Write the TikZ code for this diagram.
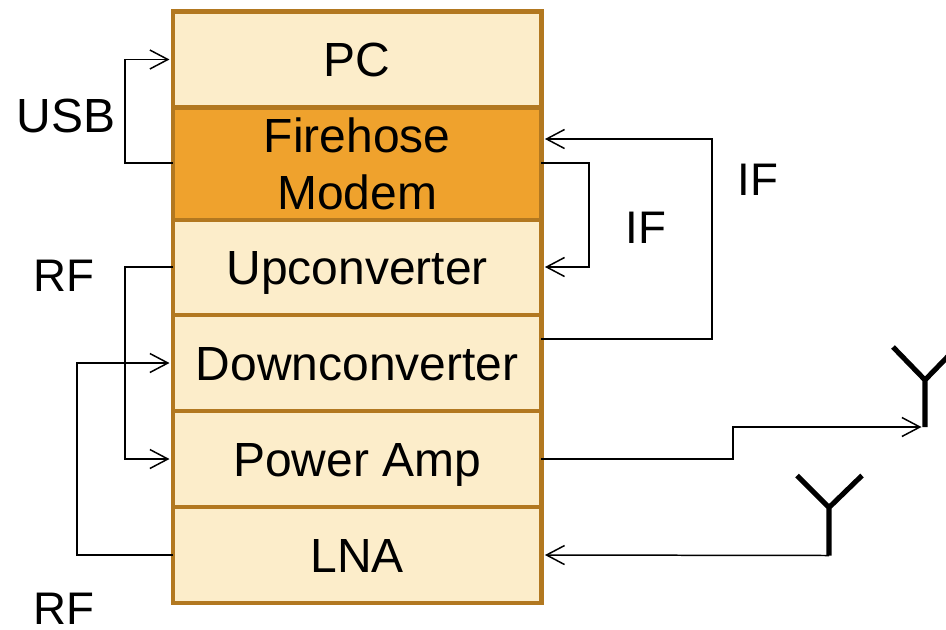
\documentclass[tikz,border=0pt]{standalone}
\usepackage{fontspec}
\setmainfont{Liberation Sans}
\usetikzlibrary{arrows.meta}
\definecolor{layerfill}{HTML}{FCEDCA}
\definecolor{modemfill}{HTML}{EFA22D}
\definecolor{layeredge}{HTML}{B27820}
\tikzset{
	layer/.style={draw=layeredge, line width=2.8pt, fill=layerfill, minimum width=7.37cm, inner sep=0pt, outer sep=0pt, align=center, font=\fontsize{27.3}{32.3}\selectfont},
	label/.style={font=\fontsize{26}{32.3}\selectfont, inner sep=0pt},
	link/.style={line width=.85pt, -{Straight Barb[length=.36cm, width=.38cm]}, shorten >=2pt},
	antenna/.style={line width=2.9pt}
}

\begin{document}
\begin{tikzpicture}[x=.02cm, y=-.02cm]
	\useasboundingbox (0,0) rectangle (946,629);
	\foreach \name/\txt/\y in {pc/PC/59.5,up/Upconverter/267,down/Downconverter/363,amp/Power Amp/459,lna/LNA/555}
		\node[layer, minimum height=1.92cm, text height=19.4pt, text depth=0pt] (\name) at (357.2,\y) {\txt};
	\node[layer, fill=modemfill, minimum height=2.24cm] (modem) at (357.2,164) {Firehose\\Modem};
	% antennas
	\coordinate (ant1) at (925,427);
	\coordinate (ant2) at (829,555.5);
	\draw[antenna] (ant1)--++(0,-47) coordinate (fork1) --++(-32,-33) (fork1)--++(32,-33);
	\draw[antenna] (ant2)--++(0,-48) coordinate (fork2) --++(-32,-32) (fork2)--++(33,-32);
	% left side
	\draw[link] ([yshift=.02cm]modem.west)--++(-48,0)|-(pc.west);
	\draw[link] (up.west)--++(-48,0)|-(amp.west);
	\draw[link] (lna.west)--++(-96,0)|-(down.west);
	% right side
	\draw[link] ([yshift=.02cm]modem.east)--++(47.5,0)|-(up.east);
	\draw[link] ([yshift=.48cm]down.east)--++(170.5,0)|-([yshift=.5cm]modem.east);
	\draw[link] (amp.east)--++(191.5,0)--++(0,-32)--(ant1);
	\draw[link] (ant2)--(lna.east);
	\node[label, font=\fontsize{27.3}{32.3}\selectfont] (usb) at (66,116) {USB};
	\node[label] (rfa) at (64,276) {RF};
	\node[label] (rfb) at (64,609) {RF};
	\node[label] (ifa) at (646,228) {IF};
	\node[label] (ifb) at (758,180) {IF};
\end{tikzpicture}
\end{document}
